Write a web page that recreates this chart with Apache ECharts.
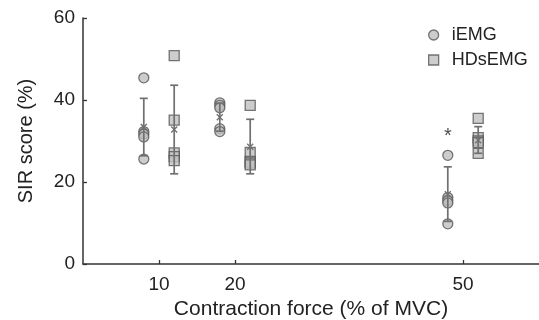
<!DOCTYPE html>
<html>
<head>
<meta charset="utf-8">
<script src="https://cdn.jsdelivr.net/npm/echarts@6/dist/echarts.min.js"></script>
<style>html,body{margin:0;padding:0;background:#fff}#c{width:539px;height:320px}</style>
</head>
<body>
<div id="c"></div>
<script>
// Force levels (% of MVC) and the two methods
const forceLevels = [10, 20, 50];
const seriesNames = ['iEMG', 'HDsEMG'];

// Individual subject scores (%) at each force level
const iemgValues = [
  [45.4, 32.3, 31.7, 31.0, 25.6],
  [39.3, 38.7, 38.1, 33.0, 32.3],
  [26.5, 16.2, 15.5, 14.9, 9.8]
];
const hdsemgValues = [
  [50.8, 35.1, 27.1, 26.2, 25.2],
  [38.7, 27.2, 25.0, 24.6, 24.2],
  [35.5, 30.8, 30.0, 29.6, 27.0]
];

// Mean and error-bar ends
const iemgMean = [33.4, 35.8, 17.0];
const iemgUpper = [40.4, 39.2, 23.7];
const iemgLower = [26.4, 32.4, 10.4];
const hdsemgMean = [32.8, 28.6, 30.2];
const hdsemgUpper = [43.6, 35.3, 33.5];
const hdsemgLower = [22.0, 22.0, 27.0];

// Significance marker
const starLevel = [50];
const starValue = [31];

const xTicks = [10, 20, 50];
const yTicks = [0, 20, 40, 60];

const OFFSET = 2;
const FONT = 'Liberation Sans, Arial, Helvetica, sans-serif';
const TEXT = '#222';
const AXIS = '#333';

function points(values, off) {
  const out = [];
  values.forEach((arr, i) => arr.forEach(v => out.push([forceLevels[i] + off, v])));
  return out;
}
function errData(mean, up, lo, off) {
  return forceLevels.map((f, i) => [f + off, mean[i], up[i], lo[i]]);
}
function renderErr(params, api) {
  const x = api.value(0);
  const pm = api.coord([x, api.value(1)]);
  const pu = api.coord([x, api.value(2)]);
  const pl = api.coord([x, api.value(3)]);
  const cap = 4, xs = 3;
  const st = {stroke: '#707070', lineWidth: 1.7};
  return {
    type: 'group',
    children: [
      {type: 'line', shape: {x1: pu[0], y1: pu[1], x2: pl[0], y2: pl[1]}, style: st},
      {type: 'line', shape: {x1: pu[0] - cap, y1: pu[1], x2: pu[0] + cap, y2: pu[1]}, style: st},
      {type: 'line', shape: {x1: pl[0] - cap, y1: pl[1], x2: pl[0] + cap, y2: pl[1]}, style: st},
      {type: 'line', shape: {x1: pm[0] - xs, y1: pm[1] - xs, x2: pm[0] + xs, y2: pm[1] + xs}, style: {stroke: '#707070', lineWidth: 1.3}},
      {type: 'line', shape: {x1: pm[0] - xs, y1: pm[1] + xs, x2: pm[0] + xs, y2: pm[1] - xs}, style: {stroke: '#707070', lineWidth: 1.3}}
    ]
  };
}

const chart = echarts.init(document.getElementById('c'), null, {renderer: 'canvas'});
const markerStyle = {color: '#c0c0c0', borderColor: '#555', borderWidth: 1.3};
chart.setOption({
  animation: false,
  backgroundColor: '#fff',
  textStyle: {fontFamily: FONT},
  grid: {left: 83, right: 0, top: 18, bottom: 56, containLabel: false, outerBoundsMode: 'none'},
  legend: {
    orient: 'vertical',
    left: 423, top: 21,
    itemWidth: 10, itemHeight: 10, itemGap: 7,
    textStyle: {fontSize: 18, color: TEXT, fontFamily: FONT, padding: [0, 0, 0, 8]},
    data: [
      {name: seriesNames[0], icon: 'circle', itemStyle: markerStyle},
      {name: seriesNames[1], icon: 'rect', itemStyle: markerStyle}
    ]
  },
  xAxis: {
    type: 'value', min: 0, max: 60, interval: 10,
    axisLine: {lineStyle: {color: AXIS, width: 1.5}},
    axisTick: {inside: true, length: 4, customValues: xTicks, lineStyle: {color: AXIS, width: 1.3}},
    axisLabel: {customValues: xTicks, fontSize: 19, color: TEXT, margin: 11, fontFamily: FONT},
    splitLine: {show: false},
    name: 'Contraction force (% of MVC)', nameLocation: 'middle', nameGap: 33,
    nameTextStyle: {fontSize: 21, color: TEXT, fontFamily: FONT}
  },
  yAxis: {
    type: 'value', min: 0, max: 60, interval: 20,
    axisLine: {show: true, lineStyle: {color: AXIS, width: 1.5}},
    axisTick: {show: true, inside: true, length: 4, customValues: yTicks, lineStyle: {color: AXIS, width: 1.3}},
    axisLabel: {customValues: yTicks, fontSize: 19, color: TEXT, margin: 8, fontFamily: FONT},
    splitLine: {show: false},
    name: 'SIR score (%)', nameLocation: 'middle', nameGap: 47,
    nameTextStyle: {fontSize: 20, color: TEXT, fontFamily: FONT}
  },
  series: [
    {name: seriesNames[0], type: 'scatter', symbol: 'circle', symbolSize: 10, itemStyle: markerStyle, data: points(iemgValues, -OFFSET), z: 2},
    {name: seriesNames[1], type: 'scatter', symbol: 'rect', symbolSize: 10, itemStyle: markerStyle, data: points(hdsemgValues, OFFSET), z: 2},
    {type: 'custom', renderItem: renderErr, data: errData(iemgMean, iemgUpper, iemgLower, -OFFSET), z: 3, silent: true},
    {type: 'custom', renderItem: renderErr, data: errData(hdsemgMean, hdsemgUpper, hdsemgLower, OFFSET), z: 3, silent: true},
    {type: 'scatter', symbol: 'circle', symbolSize: 1, silent: true, itemStyle: {color: 'rgba(0,0,0,0)'},
      data: starLevel.map((f, i) => [f - OFFSET, starValue[i]]),
      label: {show: true, formatter: '*', position: 'inside', fontSize: 20, color: TEXT, fontFamily: FONT}}
  ]
});
</script>
</body>
</html>
